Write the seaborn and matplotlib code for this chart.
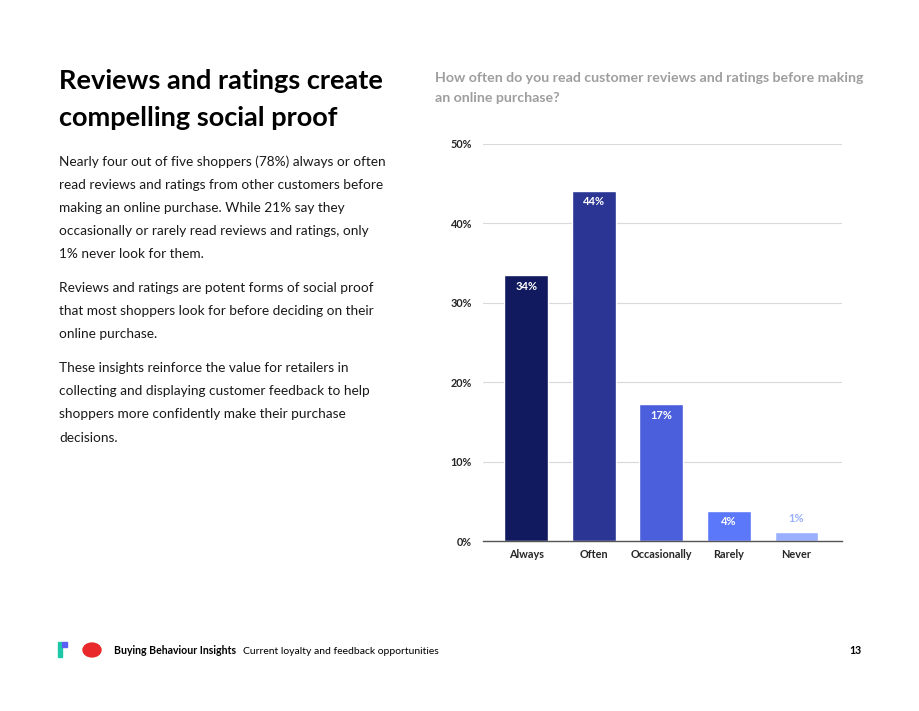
import pandas as pd
import matplotlib.pyplot as plt
import matplotlib.patches as mpatches
import seaborn as sns

# data
answers = ['Always', 'Often', 'Occasionally', 'Rarely', 'Never']
shares = [33.5, 44.1, 17.2, 3.8, 1.2]
share_labels = ['34%', '44%', '17%', '4%', '1%']
bar_colors = ['#111a5e', '#2a3594', '#4b5fdc', '#5b78fa', '#9ab0fe']
y_ticks = [0, 10, 20, 30, 40, 50]

df = pd.DataFrame({'answer': answers, 'share': shares})

sns.set_theme(style='white')
plt.rcParams['font.family'] = ['Lato', 'DejaVu Sans']

fig = plt.figure(figsize=(9.2, 7.11), dpi=100)
ax = fig.add_axes([0.525, 0.239, 0.39, 0.5585])

sns.barplot(data=df, x='answer', y='share', hue='answer', palette=bar_colors,
            width=0.65, legend=False, ax=ax, saturation=1)

for i, (v, lab) in enumerate(zip(shares, share_labels)):
    if v > 3:
        ax.text(i, v - 0.7, lab, ha='center', va='top', color='white',
                fontsize=8, fontweight='bold')
    else:
        ax.text(i, v + 0.9, lab, ha='center', va='bottom', color=bar_colors[i],
                fontsize=8, fontweight='bold')

ax.set_ylim(0, 50)
ax.set_xlim(-0.64, 4.67)
ax.set_yticks(y_ticks)
ax.set_yticklabels([f'{t}%' for t in y_ticks], fontsize=7.8, fontweight='bold')
ax.tick_params(axis='x', labelsize=7.8, length=0, pad=6)
ax.tick_params(axis='y', length=0, pad=8)
for lab in ax.get_xticklabels():
    lab.set_fontweight('bold')
ax.yaxis.grid(True, color='#d9d9d9', linewidth=0.8)
ax.set_axisbelow(True)
ax.set_xlabel('')
ax.set_ylabel('')
for s in ['top', 'right', 'left']:
    ax.spines[s].set_visible(False)
ax.spines['bottom'].set_color('#555555')
ax.spines['bottom'].set_linewidth(1)

# chart question
fig.text(435 / 920, 1 - 72 / 711, 'How often do you read customer reviews and ratings before making\nan online purchase?',
         fontsize=10.15, fontweight='bold', color='#9e9e9e', va='top', ha='left', linespacing=1.75)

# left-hand copy
fig.text(59 / 920, 1 - 69 / 711, 'Reviews and ratings create\ncompelling social proof',
         fontsize=19.5, fontweight='bold', color='black', va='top', ha='left', linespacing=1.63)

paras = [
    ('Nearly four out of five shoppers (78%) always or often\nread reviews and ratings from other customers before\n'
     'making an online purchase. While 21% say they\noccasionally or rarely read reviews and ratings, only\n1% never look for them.', 164),
    ('Reviews and ratings are potent forms of social proof\nthat most shoppers look for before deciding on their\nonline purchase.', 291),
    ('These insights reinforce the value for retailers in\ncollecting and displaying customer feedback to help\n'
     'shoppers more confidently make their purchase\ndecisions.', 371),
]
for txt, ycen in paras:
    fig.text(59 / 920, 1 - (ycen - 9) / 711, txt, fontsize=9.8, color='#1a1a1a',
             va='top', ha='left', linespacing=2.12)

# footer
fig.text(114 / 920, 1 - 654 / 711, 'Buying Behaviour Insights', fontsize=7.6, fontweight='bold',
         color='black', va='baseline', ha='left')
fig.text(243 / 920, 1 - 654 / 711, 'Current loyalty and feedback opportunities', fontsize=7.5,
         color='black', va='baseline', ha='left')
fig.text(862 / 920, 1 - 654 / 711, '13', fontsize=7.6, fontweight='bold',
         color='black', va='baseline', ha='right')

# simple logo marks
fig.patches.append(mpatches.Rectangle((58 / 920, 1 - 657 / 711), 4 / 920, 15 / 711,
                                      transform=fig.transFigure, color='#1cc8a8'))
fig.patches.append(mpatches.Rectangle((62 / 920, 1 - 647 / 711), 5 / 920, 5 / 711,
                                      transform=fig.transFigure, color='#5b5ff5'))
fig.patches.append(mpatches.Circle((92 / 920, 1 - 650 / 711), 9 / 920,
                                   transform=fig.transFigure, color='#e8282b'))

fig.savefig('out.png', dpi=100, facecolor='white')
plt.close()
